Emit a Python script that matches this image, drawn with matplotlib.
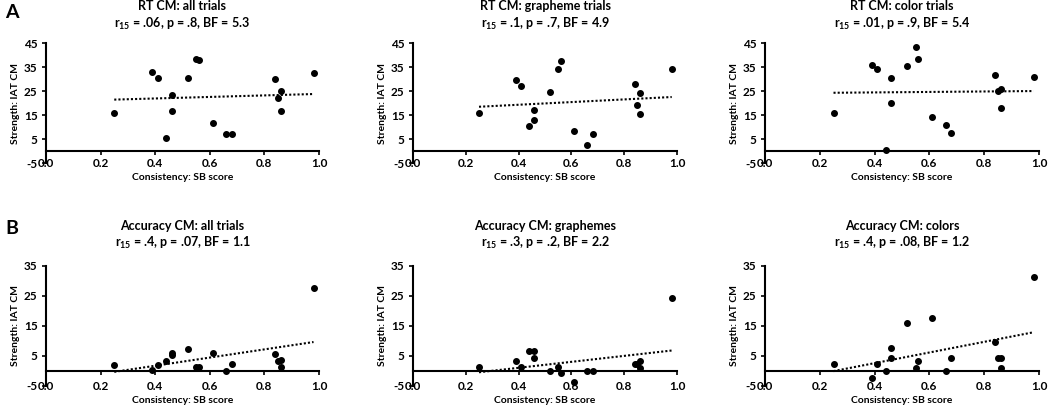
# Scatter panels: consistency (SB score) vs strength (IAT CM), with linear trend lines
import numpy as np
import matplotlib.pyplot as plt

plt.rcParams['font.family'] = ['Lato', 'DejaVu Sans']
plt.rcParams['font.weight'] = 'bold'
plt.rcParams['mathtext.fontset'] = 'custom'
plt.rcParams['mathtext.rm'] = 'Lato:bold'
plt.rcParams['mathtext.bf'] = 'Lato:bold'
plt.rcParams['mathtext.default'] = 'rm'
plt.rcParams['axes.unicode_minus'] = False

# same 17 participants in every panel
consistency = [0.25, 0.39, 0.41, 0.44, 0.46, 0.46, 0.52, 0.55, 0.56,
               0.61, 0.66, 0.68, 0.84, 0.85, 0.86, 0.86, 0.98]

rt_all = [16, 33, 30.5, 5.5, 23.5, 16.5, 30.5, 38.5, 38,
          11.5, 7, 7, 30, 22, 25, 16.5, 32.5]
rt_graph = [16, 29.5, 27, 10.5, 17, 13, 24.5, 34, 37.5,
            8.5, 2.5, 7, 28, 19, 24, 15.5, 34]
rt_color = [16, 36, 34, 0.5, 30.5, 20, 35.5, 43.5, 38.5,
            14, 11, 7.5, 31.5, 25, 26, 18, 31]

acc_all = [2, 0.5, 2, 3.2, 6, 5.4, 7.5, 1.2, 1.2,
           6, 0, 2.2, 5.6, 3.2, 3.7, 1.2, 27.7]
acc_graph = [1.3, 3.3, 1.3, 6.7, 6.7, 4.5, 0, 1.2, -0.8,
             -3.7, 0, 0, 2.3, 2.3, 3.3, 1, 24.3]
acc_color = [2.5, -2.3, 2.3, 0, 7.7, 4.5, 16, 1, 3.3,
             17.7, 0, 4.5, 9.6, 4.5, 4.3, 1, 31.5]

titles = [
    ("RT CM: all trials", ".06", ".8", "5.3"),
    ("RT CM: grapheme trials", ".1", ".7", "4.9"),
    ("RT CM: color trials", ".01", ".9", "5.4"),
    ("Accuracy CM: all trials", ".4", ".07", "1.1"),
    ("Accuracy CM: graphemes", ".3", ".2", "2.2"),
    ("Accuracy CM: colors", ".4", ".08", "1.2"),
]
series = [rt_all, rt_graph, rt_color, acc_all, acc_graph, acc_color]

W, H = 1050, 407
fig = plt.figure(figsize=(W / 100, H / 100), dpi=100)

lefts = [46, 413, 765]
widths = [273, 264, 274]
bottoms = [163, 386]   # pixel y of the axes bottom (top row, bottom row)
axh = 120
title_y = [1.225, 1.255]

for i, (ys, t) in enumerate(zip(series, titles)):
    row, col = divmod(i, 3)
    ax = fig.add_axes([lefts[col] / W, (H - bottoms[row]) / H, widths[col] / W, axh / H])
    x = np.array(consistency)
    y = np.array(ys)
    ax.scatter(x, y, s=16, color='black', zorder=3)
    k, b = np.polyfit(x, y, 1)
    xx = np.array([x.min(), x.max()])
    ax.plot(xx, k * xx + b, color='black', lw=1.5, ls=(0, (1, 1)), zorder=2)

    ax.set_xlim(0, 1.0)
    if row == 0:
        ax.set_ylim(-5, 45)
        ax.set_yticks([-5, 5, 15, 25, 35, 45])
    else:
        ax.set_ylim(-5, 35)
        ax.set_yticks([-5, 5, 15, 25, 35])

    for s in ['top', 'right']:
        ax.spines[s].set_visible(False)
    ax.spines['left'].set_linewidth(1.5)
    ax.spines['bottom'].set_linewidth(1.5)
    ax.spines['bottom'].set_position(('data', 0))
    ax.set_xticks([0, 0.2, 0.4, 0.6, 0.8, 1.0])
    ax.tick_params(axis='x', labelbottom=False, direction='out', length=3, width=1.2)
    ax.tick_params(axis='y', direction='out', length=3, width=1.2, labelsize=8.5, pad=3)
    for lab in ax.get_yticklabels():
        lab.set_fontweight('bold')

    sec = ax.secondary_xaxis('bottom')
    sec.set_xticks([0, 0.2, 0.4, 0.6, 0.8, 1.0])
    sec.set_xticklabels(['0.0', '0.2', '0.4', '0.6', '0.8', '1.0'], fontsize=8.5, fontweight='bold')
    for lab in sec.get_xticklabels():
        lab.set_va('center')
    sec.spines['bottom'].set_visible(False)
    sec.tick_params(length=0, pad=0)
    sec.set_xlabel('Consistency: SB score', fontsize=7.5, fontweight='bold', labelpad=3)

    ax.set_ylabel('Strength: IAT CM', fontsize=7.5, fontweight='bold', labelpad=3)
    name, r, p, bf = t
    ax.set_title(name + '\n' + 'r$_{15}$ = ' + r + ', p = ' + p + ', BF = ' + bf,
                 fontsize=9, fontweight='bold', y=title_y[row], va='center',
                 linespacing=1.3, pad=0)

fig.text(5 / W, 1 - 12 / H, 'A', fontsize=14, fontweight='bold', va='center', ha='left')
fig.text(5 / W, 1 - 228 / H, 'B', fontsize=14, fontweight='bold', va='center', ha='left')

fig.savefig('out.png', dpi=100)
